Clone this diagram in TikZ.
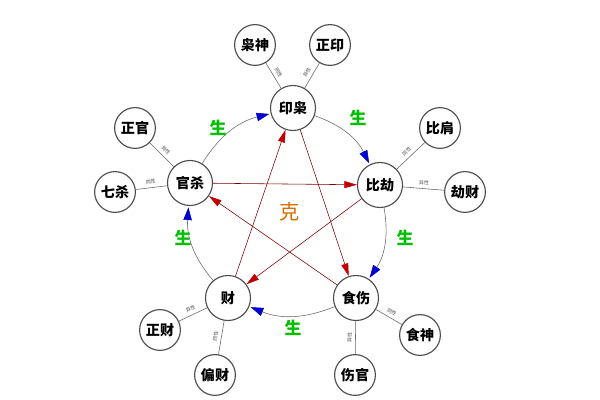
\documentclass[tikz,border=0pt]{standalone}
\usepackage{fontspec}
\setmainfont{Noto Sans CJK SC}
\usetikzlibrary{arrows.meta}
\tikzset{
  wx/.style={circle,draw=black!70,thick,minimum size=32pt,inner sep=0pt,font=\bfseries},
  sub/.style={circle,draw=black!70,thick,minimum size=29pt,inner sep=0pt,font=\bfseries},
  sheng/.style={draw=black!60,-{Triangle[blue!80!black,length=9pt,width=6pt]},shorten >=1pt},
  ke/.style={draw=red!50!black,-{Triangle[red!75!black,length=9pt,width=5pt]}},
  spoke/.style={draw=black!60},
  tag/.style={font=\fontsize{3.5}{4}\selectfont,text=black!70},
  sg/.style={text=green!75!black,font=\large\bfseries}
}
\begin{document}
\begin{tikzpicture}[x=0.025cm,y=-0.025cm]
    \useasboundingbox (0,0) rectangle (600,400);
    % wu xing nodes
    \node[wx] (yin) at (293,108) {印枭};
    \node[wx] (bi) at (380,185) {比劫};
    \node[wx] (shi) at (356,298) {食伤};
    \node[wx] (cai) at (228,298) {财};
    \node[wx] (guan) at (190,183) {官杀};

    % outer nodes
    \node[sub] (xiao) at (255,45) {枭神};
    \node[sub] (zy) at (330,45) {正印};
    \node[sub] (bj) at (440,128) {比肩};
    \node[sub] (jc) at (465,192) {劫财};
    \node[sub] (ss) at (420,335) {食神};
    \node[sub] (sg) at (355,375) {伤官};
    \node[sub] (pc) at (215,375) {偏财};
    \node[sub] (zc) at (160,330) {正财};
    \node[sub] (zg) at (135,128) {正官};
    \node[sub] (qs) at (115,192) {七杀};

    % spokes
    \foreach \a/\b/\t in {yin/xiao/同性,yin/zy/异性,bi/bj/同性,bi/jc/异性,shi/ss/同性,shi/sg/异性,cai/pc/同性,cai/zc/异性,guan/zg/异性,guan/qs/同性}
        \draw[spoke] (\a) -- node[tag,sloped,above=-1pt] {\t} (\b);

    % sheng cycle
    \draw[sheng] (guan) to[bend left=22] (yin);
    \draw[sheng] (yin) to[bend left=22] (bi);
    \draw[sheng] (bi) to[bend left=22] (shi);
    \draw[sheng] (shi) to[bend left=22] (cai);
    \draw[sheng] (cai) to[bend left=22] (guan);
    \node[sg] at (218,128) {生};
    \node[sg] at (358,118) {生};
    \node[sg] at (405,238) {生};
    \node[sg] at (293,328) {生};
    \node[sg] at (183,238) {生};

    % ke star
    \draw[ke] (guan) -- (bi);
    \draw[ke] (bi) -- (cai);
    \draw[ke] (cai) -- (yin);
    \draw[ke] (yin) -- (shi);
    \draw[ke] (shi) -- (guan);
    \node[text=orange!85!black,font=\Large] at (290,212) {克};
\end{tikzpicture}
\end{document}
